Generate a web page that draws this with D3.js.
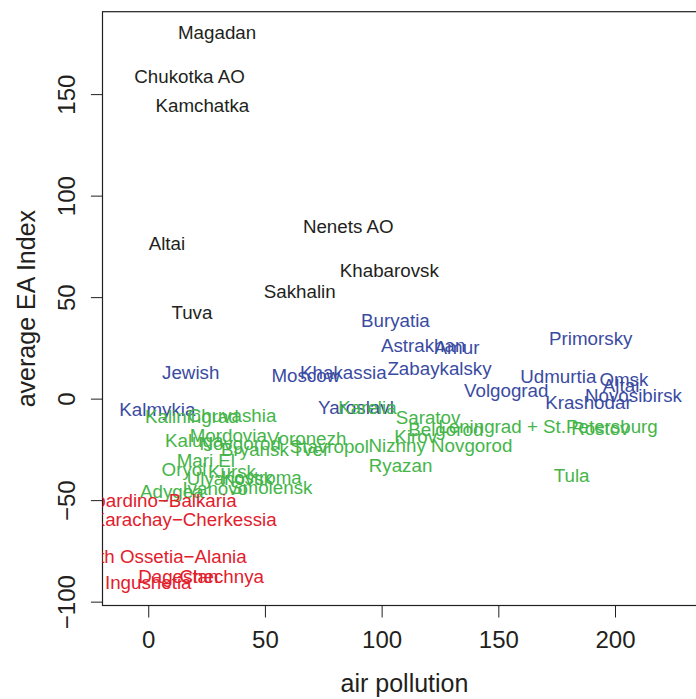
<!DOCTYPE html>
<html>
<head>
<meta charset="utf-8">
<script src="https://cdn.jsdelivr.net/npm/d3@7"></script>
<style>
  html, body { margin: 0; padding: 0; background: #fff; }
  svg { display: block; }
  text { font-family: "Liberation Sans", Arial, Helvetica, sans-serif; }
</style>
</head>
<body>
<script>
// Regions of Russia: air pollution vs. average EA index, labelled by cluster
const regions = [
  "Magadan", "Chukotka AO", "Kamchatka", "Altai", "Nenets AO", "Khabarovsk", "Sakhalin", "Tuva",
  "Buryatia", "Astrakhan", "Amur", "Jewish", "Moscow", "Khakassia", "Zabaykalsky", "Primorsky",
  "Udmurtia", "Omsk", "Altai", "Novosibirsk", "Volgograd", "Krashodar", "Kalmykia", "Yaroslavl",
  "Karelia", "Saratov", "Belgorod", "Leningrad + St.Petersburg", "Rostov", "Kirov", "Nizhny Novgorod",
  "Ryazan", "Tula", "Stavropol", "Tver", "Kaliningrad", "Chuvashia", "Kaluga", "Mordovia", "Voronezh",
  "Novgorod", "Bryansk", "Mari El", "Oryol", "Kursk", "Kostroma", "Smolensk", "Adygea", "Ivanovo",
  "Ulyanovsk",
  "Kabardino−Balkaria", "Karachay−Cherkessia", "North Ossetia−Alania", "Ingushetia", "Dagestan", "Chechnya"
];
const airPollution = [
  29.5, 17.7, 23.2, 8.0, 85.7, 103.3, 64.9, 18.7,
  105.9, 117.8, 132.3, 18.2, 67.5, 83.6, 124.8, 189.6,
  175.7, 203.8, 202.6, 207.9, 153.4, 188.6, 3.9, 89.0,
  93.9, 119.9, 127.5, 171.3, 193.7, 114.6, 125.2,
  108.1, 181.4, 77.6, 69.5, 18.7, 35.9, 19.7, 34.3, 67.9,
  39.4, 45.7, 24.7, 15.3, 35.9, 48.6, 52.7, 10.1, 28.7,
  35.0,
  2.7, 15.6, 4.1, 0.0, 12.9, 31.5
];
const eaIndex = [
  180.3, 158.6, 144.5, 76.6, 84.9, 63.3, 52.9, 42.6,
  38.6, 26.3, 25.5, 13.2, 11.4, 12.8, 14.8, 29.9,
  11.0, 9.4, 6.7, 1.7, 4.1, -2.0, -5.4, -4.3,
  -4.1, -9.3, -15.3, -13.4, -14.6, -18.5, -23.2,
  -32.7, -37.6, -23.6, -25.0, -8.9, -8.0, -20.5, -17.9, -19.5,
  -21.8, -25.0, -30.2, -34.8, -35.9, -38.9, -43.7, -45.6, -44.0,
  -39.0,
  -49.9, -59.2, -77.8, -90.6, -87.7, -87.3
];
const cluster = [
  1, 1, 1, 1, 1, 1, 1, 1,
  2, 2, 2, 2, 2, 2, 2, 2,
  2, 2, 2, 2, 2, 2, 2, 2,
  3, 3, 3, 3, 3, 3, 3,
  3, 3, 3, 3, 3, 3, 3, 3, 3,
  3, 3, 3, 3, 3, 3, 3, 3, 3,
  3,
  4, 4, 4, 4, 4, 4
];
const clusterColors = ["#231f20", "#3a4ba2", "#45b549", "#e2202c"];
const xTicks = [0, 50, 100, 150, 200];
const yTicks = [-100, -50, 0, 50, 100, 150];

const W = 696, H = 699;
const plot = { left: 102.5, right: 706.5, top: 11.7, bottom: 605.5 };

const svg = d3.select("body").append("svg")
  .attr("width", W).attr("height", H);

const x = d3.scaleLinear().domain([-19.6, 239.2]).range([plot.left, plot.right]);
const y = d3.scaleLinear().domain([-101.9, 190.6]).range([plot.bottom, plot.top]);

const ink = "#231f20";

// plotting region clip
svg.append("defs").append("clipPath").attr("id", "plotClip")
  .append("rect")
  .attr("x", plot.left).attr("y", plot.top)
  .attr("width", plot.right - plot.left).attr("height", plot.bottom - plot.top);

// x axis
const xAxis = svg.append("g")
  .attr("transform", `translate(0,${plot.bottom})`)
  .call(d3.axisBottom(x).tickValues(xTicks).tickSize(12).tickSizeOuter(0));
xAxis.select(".domain").remove();
xAxis.selectAll(".tick line").attr("stroke", ink).attr("stroke-width", 1);
xAxis.selectAll(".tick text")
  .attr("y", 42).attr("dy", 0)
  .attr("fill", ink).attr("font-size", 24)
  .attr("font-family", "'Liberation Sans', Arial, sans-serif");

// y axis with labels rotated parallel to the axis
const yAxis = svg.append("g")
  .attr("transform", `translate(${plot.left},0)`)
  .call(d3.axisLeft(y).tickValues(yTicks).tickSize(11.6).tickSizeOuter(0)
    .tickFormat(d => d < 0 ? "−" + Math.abs(d) : String(d)));
yAxis.select(".domain").remove();
yAxis.selectAll(".tick line").attr("stroke", ink).attr("stroke-width", 1);
yAxis.selectAll(".tick text")
  .attr("x", 0).attr("y", 0).attr("dy", 0)
  .attr("transform", `translate(${75 - plot.left},0) rotate(-90)`)
  .attr("text-anchor", "middle")
  .attr("fill", ink).attr("font-size", 24)
  .attr("font-family", "'Liberation Sans', Arial, sans-serif");

// frame
svg.append("rect")
  .attr("x", plot.left).attr("y", plot.top)
  .attr("width", plot.right - plot.left).attr("height", plot.bottom - plot.top)
  .attr("fill", "none").attr("stroke", ink).attr("stroke-width", 1.2);

// region labels
const data = regions.map((name, i) => ({ name, px: airPollution[i], ea: eaIndex[i], c: cluster[i] }));
svg.append("g").attr("clip-path", "url(#plotClip)")
  .selectAll("text").data(data).join("text")
  .attr("x", d => x(d.px))
  .attr("y", d => y(d.ea) + 6.7)
  .attr("text-anchor", "middle")
  .attr("font-size", 18.75)
  .attr("fill", d => clusterColors[d.c - 1])
  .text(d => d.name);

// axis titles
svg.append("text")
  .attr("x", (plot.left + plot.right) / 2).attr("y", 692)
  .attr("text-anchor", "middle").attr("font-size", 25).attr("fill", ink)
  .text("air pollution");
svg.append("text")
  .attr("transform", `translate(35,${(plot.top + plot.bottom) / 2}) rotate(-90)`)
  .attr("text-anchor", "middle").attr("font-size", 25).attr("fill", ink)
  .text("average EA Index");
</script>
</body>
</html>
